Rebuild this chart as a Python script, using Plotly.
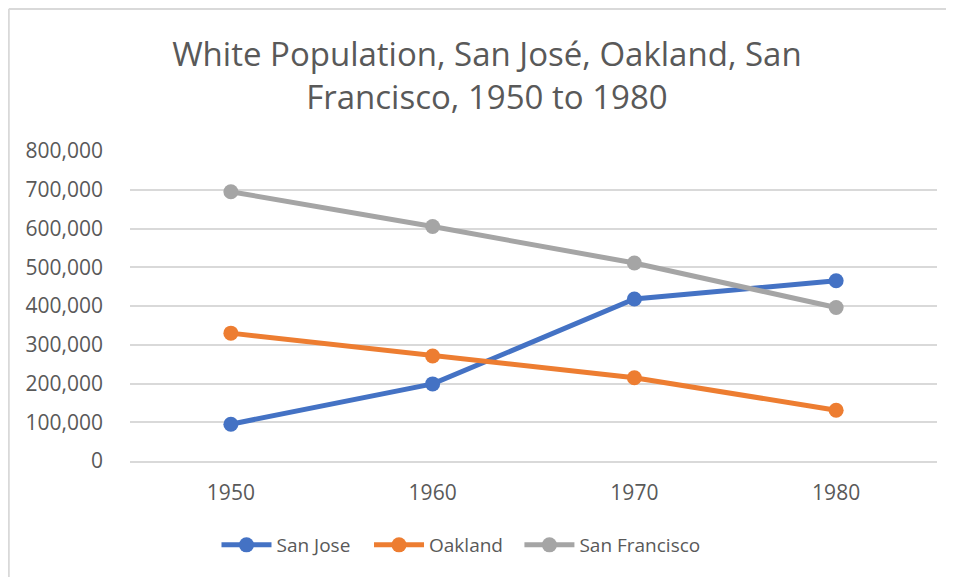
import plotly.graph_objects as go

years = ["1950", "1960", "1970", "1980"]
san_jose = [95000, 199000, 418000, 465000]
oakland = [330000, 271000, 215000, 131000]
san_francisco = [695000, 605000, 511000, 396000]

series = [
    ("San Jose", san_jose, "#4472C4"),
    ("Oakland", oakland, "#ED7D31"),
    ("San Francisco", san_francisco, "#A5A5A5"),
]

TEXT = "#595959"
GRID = "#D9D9D9"
FONT = "Open Sans, sans-serif"

# one legend per series so the entries can be spaced like the original
legend_ids = ["legend", "legend2", "legend3"]
legend_x = [0.1933, 0.3823, 0.5978]

fig = go.Figure()
for (name, vals, color), lid in zip(series, legend_ids):
    fig.add_trace(
        go.Scatter(
            x=years, y=vals, name=name,
            mode="lines+markers",
            line=dict(color=color, width=5),
            marker=dict(color=color, size=15),
            legend=lid,
            showlegend=True,
        )
    )

legend_style = dict(
    orientation="h", xanchor="center", y=-0.271, yanchor="middle",
    font=dict(size=19, color=TEXT), itemwidth=50, bgcolor="rgba(0,0,0,0)",
)

# page has an 8px body margin, so the figure is laid out 8px up/left
fig.update_layout(
    width=954, height=577,
    margin=dict(l=122, r=25, t=143, b=124),
    paper_bgcolor="white",
    plot_bgcolor="white",
    showlegend=True,
    font=dict(family=FONT, color=TEXT, size=21),
    title=dict(
        text="White Population, San José, Oakland, San<br>Francisco, 1950 to 1980",
        x=0.502, xref="container", xanchor="center",
        y=0.899, yref="container", yanchor="middle",
        font=dict(size=33, color=TEXT, family=FONT),
    ),
    xaxis=dict(
        type="category", range=[-0.5, 3.5],
        showgrid=False, showline=True, linecolor=GRID, linewidth=2,
        ticks="", ticklabelstandoff=12, zeroline=False,
    ),
    yaxis=dict(
        range=[0, 800000], dtick=100000, tickformat=",d",
        showgrid=True, gridcolor=GRID, gridwidth=2,
        zeroline=False, showline=False, ticks="", ticklabelstandoff=26,
    ),
    legend=dict(x=legend_x[0], **legend_style),
    legend2=dict(x=legend_x[1], **legend_style),
    legend3=dict(x=legend_x[2], **legend_style),
    shapes=[
        dict(type="line", xref="paper", yref="paper",
             x0=-0.1502, x1=-0.1502, y0=-0.45, y1=1.458,
             line=dict(color=GRID, width=2)),
        dict(type="line", xref="paper", yref="paper",
             x0=-0.1502, x1=1.05, y0=1.458, y1=1.458,
             line=dict(color=GRID, width=2)),
    ],
)

fig.write_html("out.html")
